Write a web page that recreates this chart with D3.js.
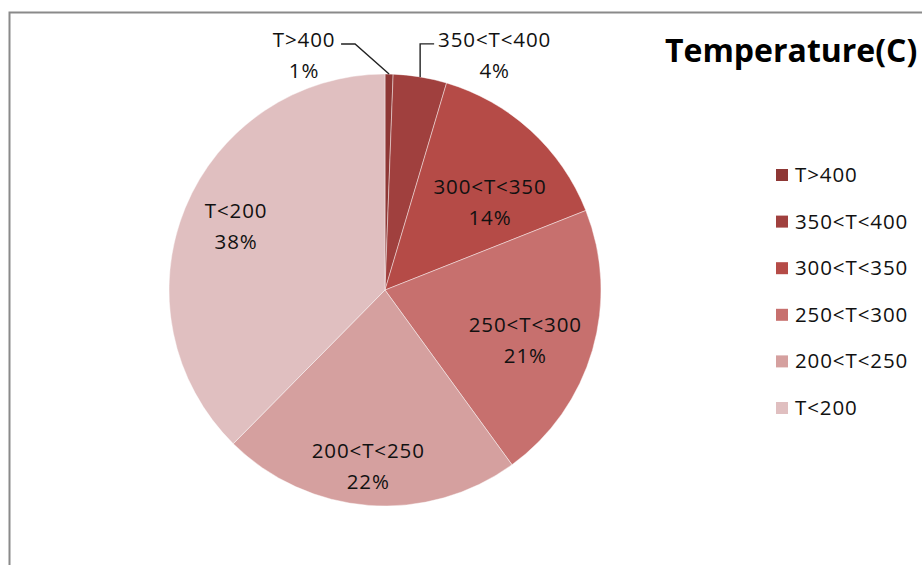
<!DOCTYPE html>
<html><head><meta charset="utf-8">
<script src="https://cdn.jsdelivr.net/npm/d3@7/dist/d3.min.js"></script>
<style>body{margin:0;background:#fff;overflow:hidden}svg{display:block}</style>
</head><body>
<div id="chart"></div>
<script>
const title = "Temperature(C)";
const categories = ["T>400","350<T<400","300<T<350","250<T<300","200<T<250","T<200"];
const values = [0.6, 4.0, 14.4, 21.0, 22.4, 37.6];
const colors = ["#8E3735","#A0403E","#B54B47","#C7706E","#D5A09F","#E0BFC0"];

const W = 922, H = 565;
const cx = 385, cy = 290, R = 216;
const font = "'Open Sans', sans-serif";

const svg = d3.select("#chart").append("svg").attr("width", W).attr("height", H);
svg.append("rect").attr("x", 9.5).attr("y", 12.5).attr("width", 1200).attr("height", 1200)
  .attr("fill", "#fff").attr("stroke", "#8a8a8a").attr("stroke-width", 2);

const total = d3.sum(values);
const pie = d3.pie().sort(null).value(d => d)(values);
const arc = d3.arc().innerRadius(0).outerRadius(R);
const labelArc = d3.arc().innerRadius(R * 0.72).outerRadius(R * 0.72);
const color = d3.scaleOrdinal().domain(categories).range(colors);

const g = svg.append("g").attr("transform", `translate(${cx},${cy})`);
g.selectAll("path").data(pie).join("path")
  .attr("d", arc)
  .attr("fill", (d, i) => color(categories[i]))
  .attr("stroke", "#fff").attr("stroke-opacity", 0.55).attr("stroke-width", 0.8);

// label layout (nudges from the computed anchor)
const inside = {2: [0, 27], 3: [-9, 7], 4: [-5, 21], 5: [-5, -4]};
const outside = {0: {dx: -85, dy: -27, elbow: [[-34, -30], [-48, -30]]},
                 1: {dx: 74.5, dy: -30, elbow: [[0, -33], [14, -33]]}};
const lineGap = 31;
const fs = 20.5;

const labels = svg.append("g").attr("font-family", font).attr("font-size", fs)
  .attr("fill", "#111").attr("text-anchor", "middle").attr("letter-spacing", 0.9);

pie.forEach((d, i) => {
  const pct = Math.round(d.value / total * 100) + "%";
  let x, y1;
  if (outside[i]) {
    const a = (d.startAngle + d.endAngle) / 2;
    const px = cx + R * Math.sin(a), py = cy - R * Math.cos(a);
    const o = outside[i];
    x = px + o.dx; y1 = py + o.dy;
    const pts = [[px, py]].concat(o.elbow.map(e => [px + e[0], py + e[1]]));
    svg.append("path").attr("d", d3.line()(pts)).attr("fill", "none")
      .attr("stroke", "#222").attr("stroke-width", 1.4);
  } else {
    const c = labelArc.centroid(d);
    x = cx + c[0] + inside[i][0];
    const ym = cy + c[1] + inside[i][1];
    y1 = ym - lineGap / 2 + 7;
  }
  labels.append("text").attr("x", x).attr("y", y1).text(categories[i]);
  labels.append("text").attr("x", x).attr("y", y1 + lineGap).text(pct);
});

// title
svg.append("text").attr("x", 665).attr("y", 62).attr("font-family", font)
  .attr("font-weight", "bold").attr("font-size", 32).attr("fill", "#000").text(title);

// legend
const ly = d3.scalePoint().domain(categories).range([175, 408]);
const leg = svg.append("g").attr("font-family", font).attr("font-size", fs)
  .attr("letter-spacing", 0.9).attr("fill", "#111");
categories.forEach(c => {
  leg.append("rect").attr("x", 776).attr("y", ly(c) - 6).attr("width", 12).attr("height", 12)
    .attr("fill", color(c));
  leg.append("text").attr("x", 795).attr("y", ly(c) + 7).text(c);
});
</script>
</body></html>
